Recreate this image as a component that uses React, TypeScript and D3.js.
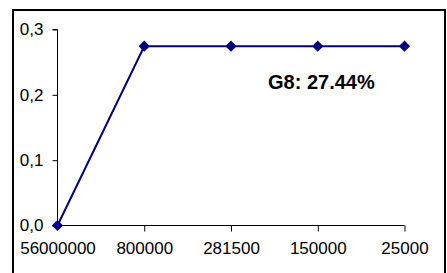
import React, { useEffect, useRef } from "react";
import * as d3 from "d3";

const categories = ["56000000", "800000", "281500", "150000", "25000"];
const values = [0, 0.2744, 0.2744, 0.2744, 0.2744];
const yTicks = [0, 0.1, 0.2, 0.3];
const annotation = "G8: 27.44%";

const App = () => {
  const svgRef = useRef<SVGSVGElement | null>(null);

  useEffect(() => {
    const svg = d3.select(svgRef.current);
    svg.selectAll("*").remove();

    const w = 447;
    const h = 273;
    const font = "'Liberation Sans', Arial, sans-serif";

    // chart area border
    svg
      .append("rect")
      .attr("x", 13)
      .attr("y", 10)
      .attr("width", 432)
      .attr("height", 300)
      .attr("fill", "#fff")
      .attr("stroke", "#000")
      .attr("stroke-width", 2);

    const x = d3.scalePoint().domain(categories).range([57.5, 404.5]);
    const y = d3.scaleLinear().domain([0, 0.3]).range([225.5, 29.5]);

    const fmt = (d) => d3.format(".1f")(d).replace(".", ",");

    const yAxis = svg
      .append("g")
      .attr("transform", "translate(57.5,0)")
      .call(d3.axisLeft(y).tickValues(yTicks).tickSize(5).tickPadding(9).tickFormat(fmt));

    const xAxis = svg
      .append("g")
      .attr("transform", "translate(0,225.5)")
      .call(d3.axisBottom(x).tickSize(6).tickPadding(10));

    [yAxis, xAxis].forEach((g) => {
      g.selectAll("path").attr("stroke", "#000").attr("stroke-width", 1);
      g.selectAll("line").attr("stroke", "#000").attr("stroke-width", 1);
      g.selectAll("text")
        .attr("fill", "#000")
        .style("font-family", font)
        .style("font-size", "17px");
    });
    xAxis.select("path").attr("d", `M${x(categories[0])},0H${x(categories[4])}`);
    xAxis.selectAll(".tick").filter((d, i) => i === 0).select("line").remove();
    yAxis.select("path").attr("d", `M-5,${y(0.3)}H0V${y(0)}`);

    const line = d3
      .line()
      .x((_, i) => x(categories[i]))
      .y((d) => y(d));

    svg
      .append("path")
      .datum(values)
      .attr("fill", "none")
      .attr("stroke", "#000080")
      .attr("stroke-width", 2)
      .attr("d", line);

    svg
      .append("g")
      .selectAll("path")
      .data(values)
      .join("path")
      .attr("d", d3.symbol().type(d3.symbolDiamond2).size(80))
      .attr("transform", (d, i) => `translate(${x(categories[i])},${y(d)})`)
      .attr("fill", "#000080");

    svg
      .append("text")
      .attr("x", 268)
      .attr("y", 89)
      .style("font-family", font)
      .style("font-size", "20px")
      .style("font-weight", "bold")
      .attr("fill", "#000")
      .text(annotation);

    svg.attr("width", w).attr("height", h);
  }, []);

  return (
    <svg
      ref={svgRef}
      width={447}
      height={273}
      style={{ position: "absolute", left: 0, top: 0, display: "block", background: "#fff" }}
    ></svg>
  );
};

export default App;
